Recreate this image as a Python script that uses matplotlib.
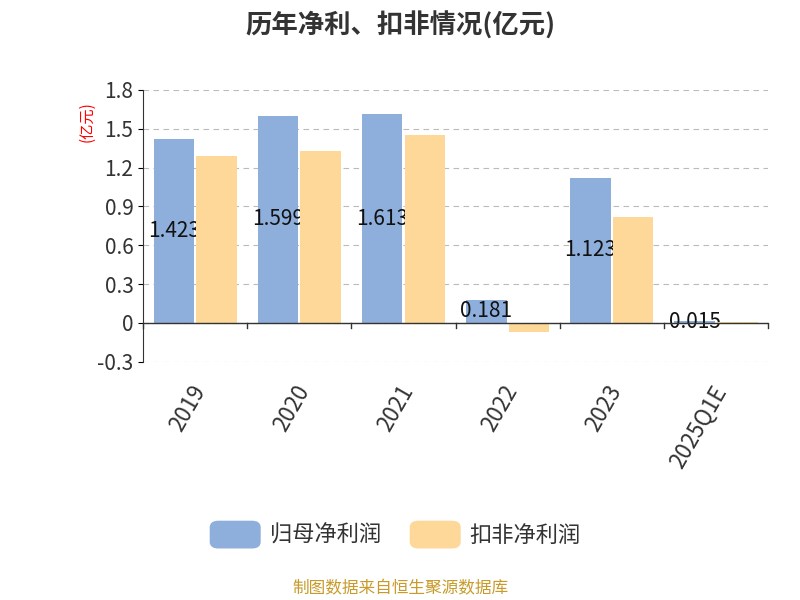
import numpy as np
import matplotlib.pyplot as plt
from matplotlib.patches import FancyBboxPatch

plt.rcParams['font.family'] = ['Noto Sans CJK SC', 'DejaVu Sans']

categories = ["2019", "2020", "2021", "2022", "2023", "2025Q1E"]
net_profit = [1.423, 1.599, 1.613, 0.181, 1.123, 0.015]
deducted = [1.29, 1.33, 1.45, -0.07, 0.82, 0.01]
yticks = [-0.3, 0, 0.3, 0.6, 0.9, 1.2, 1.5, 1.8]
ytick_labels = ["-0.3", "0", "0.3", "0.6", "0.9", "1.2", "1.5", "1.8"]

blue = "#8eaedb"
orange = "#fdd898"

fig = plt.figure(figsize=(8, 6), dpi=100)
ax = fig.add_axes([0.179, 0.397, 0.781, 0.453])

x = np.arange(len(categories))
w = 0.39
ax.bar(x - w / 2 - 0.01, net_profit, w, color=blue, zorder=2)
ax.bar(x + w / 2 + 0.01, deducted, w, color=orange, zorder=4)
for xi, v in zip(x, net_profit):
    ax.text(xi - w / 2 - 0.01, v / 2, f"{v:.3f}", ha="center", va="center",
            fontsize=15, color="#111111", zorder=3)

ax.set_xlim(-0.5, len(categories) - 0.5)
ax.set_ylim(-0.3, 1.8)
ax.set_yticks(yticks)
ax.set_yticklabels(ytick_labels, fontsize=15, color="#333333")
ax.grid(axis="y", linestyle=(0, (5, 4)), color="#bbbbbb", zorder=0)
for s in ["top", "right", "bottom"]:
    ax.spines[s].set_visible(False)
ax.spines["left"].set_color("#333333")
ax.axhline(0, color="#333333", lw=1, zorder=5)
ax.set_xticks(x - 0.05)
ax.set_xticklabels(categories, rotation=60, ha="right", rotation_mode="anchor",
                   fontsize=16, color="#333333")
ax.tick_params(axis="x", length=0, pad=14)
for b in np.arange(len(categories) + 1) - 0.5:
    ax.plot([b, b], [0, -0.04], color="#333333", lw=1, clip_on=False, zorder=5)

ax.text(-0.09, 0.96, "(亿元)", transform=ax.transAxes, rotation=90,
        color="red", fontsize=11, ha="center", va="top")

fig.text(0.5, 0.957, "历年净利、扣非情况(亿元)", ha="center", va="center",
         fontsize=19, fontweight="bold", color="#333333")

# legend
for px, label, c in [(0.263, "归母净利润", blue), (0.513, "扣非净利润", orange)]:
    fig.patches.append(FancyBboxPatch((px, 0.087), 0.062, 0.044,
                                      boxstyle="round,pad=0,rounding_size=0.01",
                                      transform=fig.transFigure, color=c))
    fig.text(px + 0.074, 0.108, label, fontsize=16, va="center", color="#333333")

fig.text(0.5, 0.018, "制图数据来自恒生聚源数据库", ha="center", va="center",
         fontsize=12, color="#c89a2a")

fig.savefig("out.png")
